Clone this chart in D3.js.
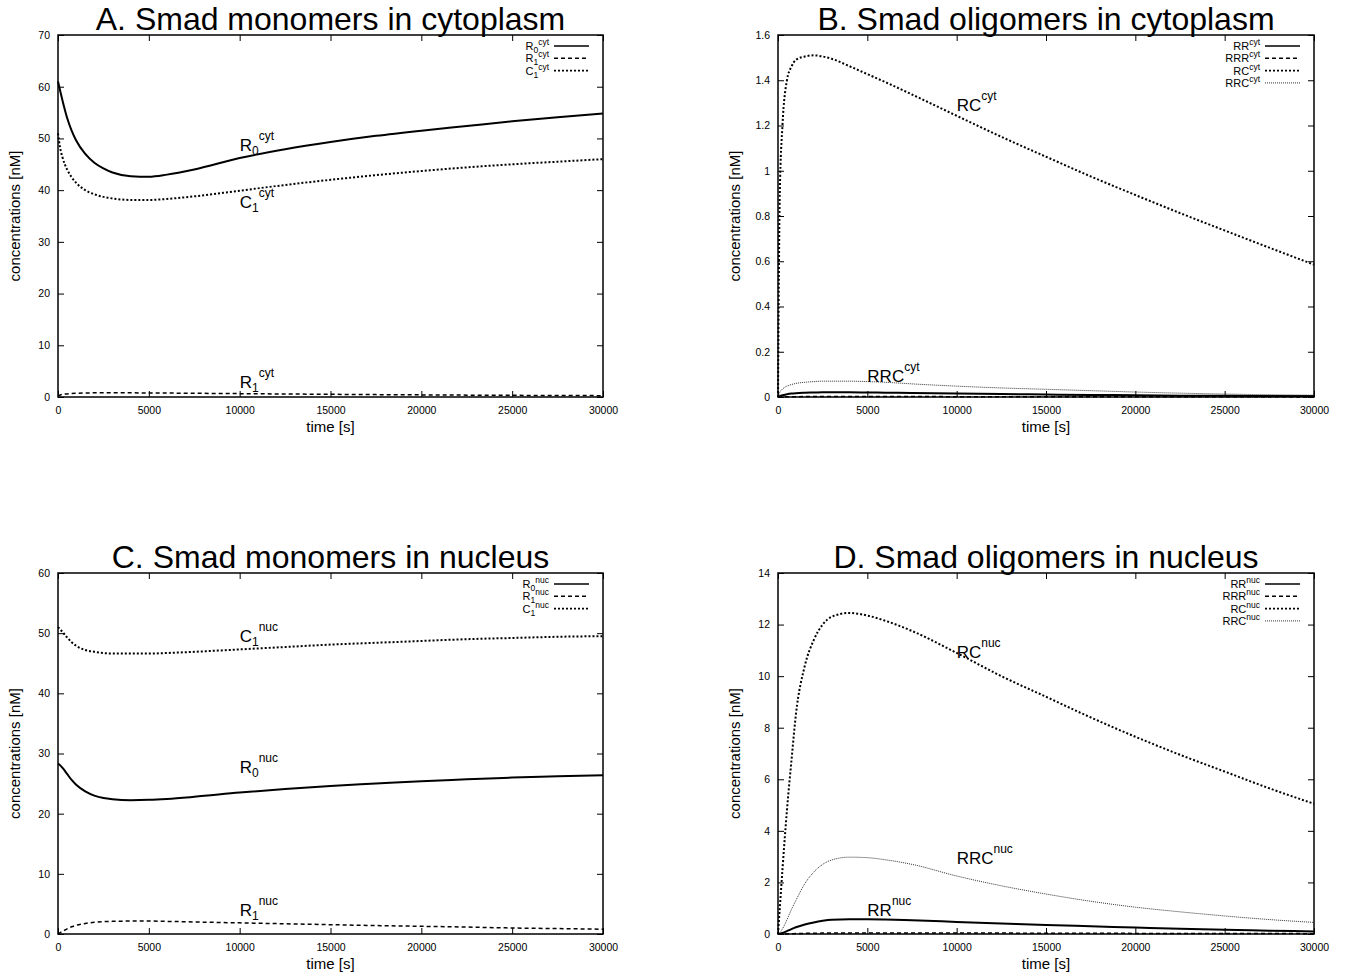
<!DOCTYPE html>
<html>
<head>
<meta charset="utf-8">
<script src="https://cdn.jsdelivr.net/npm/d3@7"></script>
<style>
  html, body { margin: 0; padding: 0; background: #fff; }
  svg { display: block; font-family: "Liberation Sans", Arial, Helvetica, sans-serif; }
</style>
</head>
<body>
<svg id="chart" width="1354" height="980"></svg>
<script>
// ---------------- DATA ----------------
const times = [0, 100, 250, 500, 750, 1000, 1500, 2000, 2500, 3000, 4000, 5000, 6000, 7500, 10000, 12500, 15000, 17500, 20000, 22500, 25000, 27500, 30000];
const xTicks = [0, 5000, 10000, 15000, 20000, 25000, 30000];

// A. Smad monomers in cytoplasm
const r0Cyt = [61, 59.5, 57.3, 54, 51.5, 49.6, 47, 45.3, 44.2, 43.4, 42.7, 42.6, 43.0, 44.0, 46.2, 47.9, 49.3, 50.5, 51.5, 52.4, 53.3, 54.1, 54.8];
const r1Cyt = [0.2, 0.35, 0.5, 0.6, 0.68, 0.72, 0.77, 0.8, 0.8, 0.8, 0.8, 0.78, 0.76, 0.72, 0.65, 0.58, 0.52, 0.46, 0.41, 0.36, 0.32, 0.29, 0.26];
const c1Cyt = [51, 48.5, 46.3, 44, 42.5, 41.4, 40, 39.2, 38.7, 38.4, 38.1, 38.1, 38.3, 38.8, 39.9, 41, 42, 42.9, 43.7, 44.4, 45, 45.5, 46];
const yTicksA = [0, 10, 20, 30, 40, 50, 60, 70];

// B. Smad oligomers in cytoplasm
const rrCyt = [0, 0.004, 0.008, 0.012, 0.015, 0.017, 0.019, 0.02, 0.021, 0.021, 0.021, 0.02, 0.019, 0.018, 0.016, 0.013, 0.011, 0.009, 0.008, 0.006, 0.005, 0.004, 0.004];
const rrrCyt = [0, 0.0002, 0.0005, 0.001, 0.0013, 0.0015, 0.0018, 0.002, 0.002, 0.002, 0.002, 0.002, 0.0019, 0.0018, 0.0016, 0.0014, 0.0012, 0.001, 0.0009, 0.0008, 0.0007, 0.0006, 0.0005];
const rcCyt = [0, 0.9, 1.2, 1.4, 1.46, 1.49, 1.505, 1.51, 1.505, 1.495, 1.462, 1.427, 1.392, 1.337, 1.243, 1.15, 1.062, 0.975, 0.893, 0.813, 0.736, 0.66, 0.585];
const rrcCyt = [0, 0.02, 0.035, 0.048, 0.055, 0.06, 0.065, 0.068, 0.07, 0.07, 0.07, 0.068, 0.065, 0.058, 0.048, 0.04, 0.034, 0.028, 0.022, 0.017, 0.013, 0.01, 0.008];
const yTicksB = [0, 0.2, 0.4, 0.6, 0.8, 1, 1.2, 1.4, 1.6];

// C. Smad monomers in nucleus
const r0Nuc = [28.3, 28.1, 27.6, 26.6, 25.6, 24.8, 23.7, 23.0, 22.6, 22.4, 22.25, 22.3, 22.45, 22.8, 23.5, 24.1, 24.6, 25.0, 25.4, 25.7, 26.0, 26.2, 26.4];
const r1Nuc = [0, 0.2, 0.45, 0.85, 1.2, 1.45, 1.75, 1.95, 2.05, 2.1, 2.15, 2.15, 2.1, 2.0, 1.85, 1.7, 1.55, 1.4, 1.28, 1.15, 1.0, 0.9, 0.8];
const c1Nuc = [51, 50.7, 50.2, 49.3, 48.5, 47.9, 47.2, 46.9, 46.7, 46.6, 46.6, 46.6, 46.7, 46.9, 47.3, 47.7, 48.1, 48.4, 48.7, 49.0, 49.2, 49.4, 49.5];
const yTicksC = [0, 10, 20, 30, 40, 50, 60];

// D. Smad oligomers in nucleus
const rrNuc = [0, 0.01, 0.04, 0.11, 0.19, 0.26, 0.37, 0.45, 0.51, 0.55, 0.57, 0.57, 0.56, 0.53, 0.47, 0.41, 0.35, 0.3, 0.25, 0.2, 0.16, 0.13, 0.1];
const rrrNuc = [0, 0.0, 0.002, 0.006, 0.011, 0.016, 0.024, 0.03, 0.035, 0.038, 0.042, 0.043, 0.043, 0.042, 0.039, 0.035, 0.031, 0.027, 0.024, 0.021, 0.018, 0.016, 0.014];
const rcNuc = [0, 1.0, 2.5, 4.8, 6.7, 8.5, 10.4, 11.4, 12.0, 12.3, 12.45, 12.35, 12.15, 11.75, 10.9, 10.0, 9.2, 8.4, 7.65, 6.95, 6.3, 5.65, 5.05];
const rrcNuc = [0, 0.05, 0.2, 0.55, 0.95, 1.3, 1.95, 2.4, 2.7, 2.87, 2.98, 2.96, 2.88, 2.7, 2.25, 1.87, 1.55, 1.27, 1.04, 0.86, 0.7, 0.56, 0.45];
const yTicksD = [0, 2, 4, 6, 8, 10, 12, 14];

// ---------------- STYLES ----------------
const styles = {
  solid:  { dash: null,    width: 2,   color: "#000" },
  dashed: { dash: "4,3",   width: 1.5, color: "#000" },
  dotted: { dash: "2,2",   width: 2,   color: "#000" },
  fine:   { dash: "1,1",   width: 1,   color: "#333" }
};

// label parts: [main, sub, sup]
const panels = [
  { title: "A. Smad monomers in cytoplasm", box: [58, 35, 603, 397], yMax: 70, yTicks: yTicksA, fmt: d => d,
    series: [
      { name: ["R", "0", "cyt"], data: r0Cyt, style: "solid" },
      { name: ["R", "1", "cyt"], data: r1Cyt, style: "dashed" },
      { name: ["C", "1", "cyt"], data: c1Cyt, style: "dotted" }
    ],
    labels: [
      { name: ["R", "0", "cyt"], t: 10000, v: 47.6 },
      { name: ["C", "1", "cyt"], t: 10000, v: 36.6 },
      { name: ["R", "1", "cyt"], t: 10000, v: 1.8 }
    ] },
  { title: "B. Smad oligomers in cytoplasm", box: [778, 35, 1314, 397], yMax: 1.6, yTicks: yTicksB, fmt: d => d,
    series: [
      { name: ["RR", "", "cyt"], data: rrCyt, style: "solid" },
      { name: ["RRR", "", "cyt"], data: rrrCyt, style: "dashed" },
      { name: ["RC", "", "cyt"], data: rcCyt, style: "dotted" },
      { name: ["RRC", "", "cyt"], data: rrcCyt, style: "fine" }
    ],
    labels: [
      { name: ["RC", "", "cyt"], t: 10000, v: 1.265 },
      { name: ["RRC", "", "cyt"], t: 5000, v: 0.067 }
    ] },
  { title: "C. Smad monomers in nucleus", box: [58, 573, 603, 934], yMax: 60, yTicks: yTicksC, fmt: d => d,
    series: [
      { name: ["R", "0", "nuc"], data: r0Nuc, style: "solid" },
      { name: ["R", "1", "nuc"], data: r1Nuc, style: "dashed" },
      { name: ["C", "1", "nuc"], data: c1Nuc, style: "dotted" }
    ],
    labels: [
      { name: ["C", "1", "nuc"], t: 10000, v: 48.5 },
      { name: ["R", "0", "nuc"], t: 10000, v: 26.7 },
      { name: ["R", "1", "nuc"], t: 10000, v: 3.0 }
    ] },
  { title: "D. Smad oligomers in nucleus", box: [778, 573, 1314, 934], yMax: 14, yTicks: yTicksD, fmt: d => d,
    series: [
      { name: ["RR", "", "nuc"], data: rrNuc, style: "solid" },
      { name: ["RRR", "", "nuc"], data: rrrNuc, style: "dashed" },
      { name: ["RC", "", "nuc"], data: rcNuc, style: "dotted" },
      { name: ["RRC", "", "nuc"], data: rrcNuc, style: "fine" }
    ],
    labels: [
      { name: ["RC", "", "nuc"], t: 10000, v: 10.7 },
      { name: ["RRC", "", "nuc"], t: 10000, v: 2.72 },
      { name: ["RR", "", "nuc"], t: 5000, v: 0.68 }
    ] }
];

// ---------------- DRAW ----------------
const svg = d3.select("#chart");

function richText(sel, parts, mainSize, smallSize, subDy, supDy) {
  sel.append("tspan").attr("font-size", mainSize).text(parts[0]);
  let shift = 0;
  if (parts[1]) {
    sel.append("tspan").attr("font-size", smallSize).attr("dy", subDy).text(parts[1]);
    shift = subDy;
  }
  if (parts[2]) {
    sel.append("tspan").attr("font-size", smallSize).attr("dy", supDy - shift).text(parts[2]);
  }
}

panels.forEach(p => {
  const [x0, y0, x1, y1] = p.box;
  const x = d3.scaleLinear().domain([0, 30000]).range([x0, x1]);
  const y = d3.scaleLinear().domain([0, p.yMax]).range([y1, y0]);
  const g = svg.append("g");

  // axes with inward ticks on all sides
  const fontSize = 10.5;
  const bottom = g.append("g").attr("transform", `translate(0,${y1})`)
    .call(d3.axisBottom(x).tickValues(xTicks).tickSize(-6).tickPadding(10).tickFormat(d3.format("d")));
  const top = g.append("g").attr("transform", `translate(0,${y0})`)
    .call(d3.axisTop(x).tickValues(xTicks).tickSize(-6).tickFormat(""));
  const left = g.append("g").attr("transform", `translate(${x0},0)`)
    .call(d3.axisLeft(y).tickValues(p.yTicks).tickSize(-6).tickPadding(8).tickFormat(p.fmt));
  const right = g.append("g").attr("transform", `translate(${x1},0)`)
    .call(d3.axisRight(y).tickValues(p.yTicks).tickSize(-6).tickFormat(""));
  [bottom, top, left, right].forEach(a => {
    a.select(".domain").remove();
    a.selectAll(".tick line").attr("stroke", "#000").attr("stroke-width", 1);
    a.selectAll("text").attr("font-size", fontSize).attr("font-family", "Liberation Sans, Arial, sans-serif").attr("fill", "#000");
  });

  // series
  const line = d3.line().x((d, i) => x(times[i])).y(d => y(d)).curve(d3.curveMonotoneX);
  p.series.forEach(s => {
    const st = styles[s.style];
    g.append("path").datum(s.data)
      .attr("d", line)
      .attr("fill", "none")
      .attr("stroke", st.color)
      .attr("stroke-width", st.width)
      .attr("stroke-dasharray", st.dash);
  });

  // frame
  g.append("rect").attr("x", x0).attr("y", y0).attr("width", x1 - x0).attr("height", y1 - y0)
    .attr("fill", "none").attr("stroke", "#000").attr("stroke-width", 1.5);

  // legend
  p.series.forEach((s, i) => {
    const ly = y0 + 11 + i * 12.3;
    const st = styles[s.style];
    const t = g.append("text").attr("x", x1 - 54).attr("y", ly + 4).attr("text-anchor", "end").attr("fill", "#000");
    richText(t, s.name, 11, 8.5, 3, -5);
    g.append("line").attr("x1", x1 - 49).attr("x2", x1 - 14).attr("y1", ly).attr("y2", ly)
      .attr("stroke", st.color).attr("stroke-width", st.width === 2 ? 1.6 : st.width)
      .attr("stroke-dasharray", st.dash);
  });

  // curve labels
  p.labels.forEach(l => {
    const t = g.append("text").attr("x", x(l.t)).attr("y", y(l.v)).attr("fill", "#000");
    richText(t, l.name, 17, 12, 4, -11);
  });

  // title
  g.append("text").attr("x", (x0 + x1) / 2).attr("y", y0 - 5).attr("text-anchor", "middle")
    .attr("font-size", 32).attr("fill", "#000").text(p.title);

  // axis titles
  g.append("text").attr("x", (x0 + x1) / 2).attr("y", y1 + 35).attr("text-anchor", "middle")
    .attr("font-size", 15).attr("fill", "#000").text("time [s]");
  g.append("text").attr("transform", `translate(${x0 - 38},${(y0 + y1) / 2}) rotate(-90)`)
    .attr("text-anchor", "middle").attr("font-size", 15).attr("fill", "#000").text("concentrations [nM]");
});
</script>
</body>
</html>
